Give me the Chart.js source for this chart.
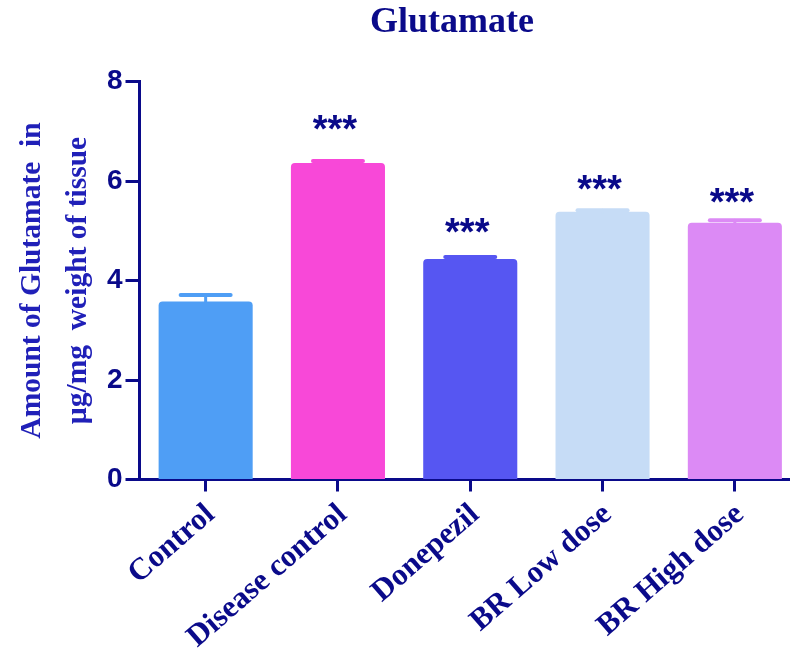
<!DOCTYPE html>
<html>
<head>
<meta charset="utf-8">
<title>Glutamate</title>
<script src="https://cdn.jsdelivr.net/npm/chart.js@4/dist/chart.umd.min.js"></script>
<style>
  html, body { margin: 0; padding: 0; background: #ffffff; overflow: hidden; }
  #wrap { position: relative; width: 801px; height: 657px; }
</style>
</head>
<body>
<div id="wrap"><canvas id="chart"></canvas></div>
<script>
// Groups and measured glutamate levels (mean and SEM, µg/mg tissue)
const categories = ['Control', 'Disease control', 'Donepezil', 'BR Low dose', 'BR High dose'];
const means = [3.58, 6.36, 4.43, 5.38, 5.16];
const sems = [0.13, 0.04, 0.04, 0.03, 0.05];
// Significance markers and the level each one sits at
const markers = ['', '***', '***', '***', '***'];
const markerLevels = [null, 7.17, 5.10, 5.96, 5.70];
const yTickValues = [0, 2, 4, 6, 8];

const barColors = ['#4f9ef5', '#f848d8', '#5656f2', '#c6dcf6', '#dc8af5'];
const NAVY = '#0a0a8a';
const SERIF = '"Liberation Serif", "Times New Roman", Times, serif';
const SANS = '"Liberation Sans", Arial, Helvetica, sans-serif';

// Upper error bars, drawn in the colour of their bar
const errorBars = {
  id: 'errorBars',
  afterDatasetsDraw(chart) {
    const ctx = chart.ctx;
    const y = chart.scales.y;
    const meta = chart.getDatasetMeta(0);
    ctx.save();
    meta.data.forEach((bar, i) => {
      const top = y.getPixelForValue(means[i] + sems[i]);
      const base = y.getPixelForValue(means[i]);
      ctx.strokeStyle = barColors[i];
      ctx.lineCap = 'round';
      ctx.lineWidth = 3;
      ctx.beginPath();
      ctx.moveTo(bar.x, base);
      ctx.lineTo(bar.x, top);
      ctx.stroke();
      ctx.lineWidth = 4;
      ctx.beginPath();
      ctx.moveTo(bar.x - 25, top);
      ctx.lineTo(bar.x + 25, top);
      ctx.stroke();
    });
    ctx.restore();
  }
};

// Significance stars above the bars
const starMarks = {
  id: 'starMarks',
  afterDatasetsDraw(chart) {
    const ctx = chart.ctx;
    const y = chart.scales.y;
    const meta = chart.getDatasetMeta(0);
    ctx.save();
    ctx.font = 'bold 38px ' + SANS;
    ctx.fillStyle = NAVY;
    ctx.textAlign = 'center';
    ctx.textBaseline = 'alphabetic';
    meta.data.forEach((bar, i) => {
      if (!markers[i] || markerLevels[i] == null) return;
      const m = ctx.measureText(markers[i]);
      const cy = y.getPixelForValue(markerLevels[i]);
      const baseline = cy + (m.actualBoundingBoxAscent - m.actualBoundingBoxDescent) / 2;
      ctx.fillText(markers[i], bar.x - 3, baseline);
    });
    ctx.restore();
  }
};

// Chart heading
const heading = {
  id: 'heading',
  afterDraw(chart) {
    const ctx = chart.ctx;
    ctx.save();
    ctx.font = 'bold 36px ' + SERIF;
    ctx.fillStyle = NAVY;
    ctx.textAlign = 'center';
    ctx.textBaseline = 'middle';
    ctx.fillText('Glutamate', 452, 23);
    ctx.restore();
  }
};

new Chart(document.getElementById('chart'), {
  type: 'bar',
  data: {
    labels: categories,
    datasets: [{
      data: means,
      backgroundColor: barColors,
      borderWidth: 0,
      borderRadius: { topLeft: 4, topRight: 4, bottomLeft: 0, bottomRight: 0 },
      borderSkipped: 'start',
      barPercentage: 0.711,
      categoryPercentage: 1.0
    }]
  },
  options: {
    responsive: true,
    maintainAspectRatio: false,
    animation: false,
    layout: { padding: { top: 81.5, left: 0, right: 0, bottom: 0 } },
    plugins: {
      legend: { display: false },
      title: { display: false },
      tooltip: { enabled: false }
    },
    scales: {
      x: {
        offset: true,
        afterFit(scale) { scale.height = 177.5; },
        border: { display: true, color: NAVY, width: 3 },
        grid: { display: true, offset: false, drawOnChartArea: false, drawTicks: true, tickLength: 12, tickWidth: 3, tickColor: NAVY },
        ticks: {
          autoSkip: false,
          minRotation: 41,
          maxRotation: 41,
          padding: 5,
          labelOffset: 5,
          color: NAVY,
          font: { family: SERIF, size: 31, weight: 'bold' }
        }
      },
      y: {
        min: 0,
        max: 8,
        afterFit(scale) { scale.width = 139.5; },
        afterBuildTicks(scale) { scale.ticks = yTickValues.map(v => ({ value: v })); },
        border: { display: true, color: NAVY, width: 3 },
        grid: { display: true, drawOnChartArea: false, drawTicks: true, tickLength: 14, tickWidth: 3, tickColor: NAVY },
        ticks: {
          padding: 3,
          color: NAVY,
          font: { family: SANS, size: 28, weight: 'bold' }
        },
        title: {
          display: true,
          text: ['Amount of Glutamate  in', 'µg/mg  weight of tissue'],
          color: '#2020b8',
          padding: { top: 9, bottom: 0 },
          font: { family: SERIF, size: 29.5, weight: 'bold', lineHeight: '46px' }
        }
      }
    }
  },
  plugins: [errorBars, starMarks, heading]
});
</script>
</body>
</html>
